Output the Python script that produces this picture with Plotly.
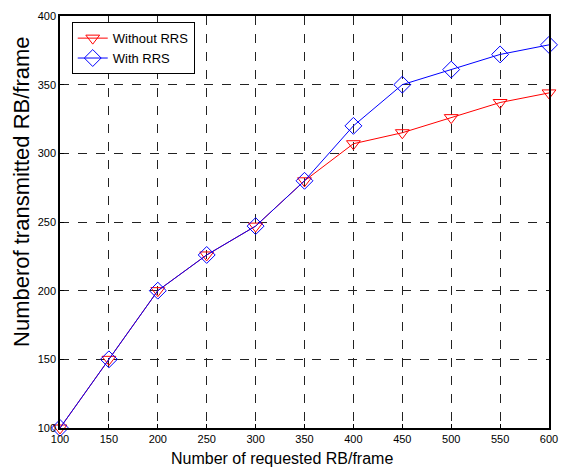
import plotly.graph_objects as go

requested = [100, 150, 200, 250, 300, 350, 400, 450, 500, 550, 600]
without_rrs = [100, 150, 200, 226, 247, 280, 307, 315, 326, 337, 344]
with_rrs = [100, 150, 200, 226, 247, 280, 320, 350, 361, 372, 379]
x_ticks = [100, 150, 200, 250, 300, 350, 400, 450, 500, 550, 600]
y_ticks = [100, 150, 200, 250, 300, 350, 400]

FONT = "Liberation Sans, Arial, sans-serif"

fig = go.Figure()
fig.add_trace(go.Scatter(
    x=requested, y=without_rrs, mode="lines+markers", name="Without RRS",
    line=dict(color="#ff0000", width=1),
    marker=dict(symbol="triangle-down-open", size=12, color="#ff0000", line=dict(width=1)),
    cliponaxis=False,
))
fig.add_trace(go.Scatter(
    x=requested, y=with_rrs, mode="lines+markers", name="With RRS",
    line=dict(color="#0000ff", width=1),
    marker=dict(symbol="diamond-open", size=13, color="#0000ff", line=dict(width=1)),
    cliponaxis=False,
))

axis_common = dict(
    showline=True, linecolor="black", linewidth=1.5, mirror=True,
    showgrid=True, gridcolor="#222222", gridwidth=1, griddash="dash",
    zeroline=False, ticks="inside", ticklen=4, tickcolor="black",
    tickfont=dict(family=FONT, size=11, color="black"),
    ticklabeloverflow="allow",
)

fig.update_xaxes(range=[100, 600], tickvals=x_ticks, ticktext=[str(v) for v in x_ticks],
                 ticklabelstandoff=0, **axis_common)
fig.update_yaxes(range=[100, 400], tickvals=y_ticks, ticktext=[str(v) for v in y_ticks],
                 ticklabelstandoff=0, **axis_common)

fig.add_annotation(
    text="Numberof transmitted RB/frame", textangle=-90,
    xref="paper", yref="paper", x=-0.08, y=0.575, xanchor="center", yanchor="middle",
    showarrow=False, font=dict(family=FONT, size=22, color="black"),
)
fig.add_annotation(
    text="Number of requested RB/frame",
    xref="paper", yref="paper", x=(283 - 60) / 491, y=-0.073, xanchor="center", yanchor="middle",
    showarrow=False, font=dict(family=FONT, size=16, color="black"),
)

fig.update_layout(
    width=565, height=470,
    margin=dict(l=60, r=7, t=16, b=42),
    paper_bgcolor="white", plot_bgcolor="white",
    font=dict(family=FONT, color="black"),
    showlegend=True,
    legend=dict(
        x=0.024, y=0.985, xanchor="left", yanchor="top",
        bgcolor="white", bordercolor="black", borderwidth=1,
        font=dict(family=FONT, size=13, color="black"),
        tracegroupgap=0, itemwidth=30,
    ),
)

fig.write_html(
    "out.html",
    config={"displayModeBar": False},
    post_script="document.body.style.margin='0';document.body.style.padding='0';document.body.style.overflow='hidden';",
)
